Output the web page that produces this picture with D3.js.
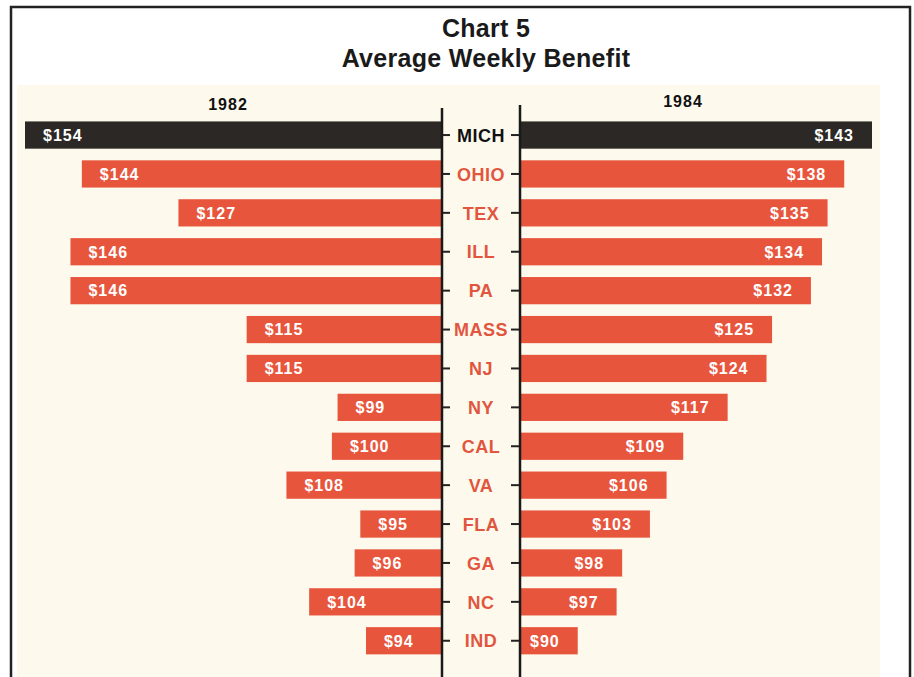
<!DOCTYPE html>
<html>
<head>
<meta charset="utf-8">
<script src="https://cdn.jsdelivr.net/npm/d3@7"></script>
<style>
  html, body { margin: 0; padding: 0; background: #ffffff; }
  svg { display: block; font-family: Arial, "Liberation Sans", Helvetica, sans-serif; }
</style>
</head>
<body>
<svg id="chart" width="914" height="677"></svg>
<script>
const states = ["MICH","OHIO","TEX","ILL","PA","MASS","NJ","NY","CAL","VA","FLA","GA","NC","IND"];
const values1982 = [154,144,127,146,146,115,115,99,100,108,95,96,104,94];
const values1984 = [143,138,135,134,132,125,124,117,109,106,103,98,97,90];
const yearLabels = ["1982","1984"];
const titleLines = ["Chart 5","Average Weekly Benefit"];
const highlighted = ["MICH"];

const RED = "#e8553d", DARK = "#2b2825", LABELRED = "#e2553f", CREAM = "#fdfaed";

const svg = d3.select("#chart");

// frame
svg.append("rect").attr("x", 11).attr("y", 7).attr("width", 899).attr("height", 700)
  .attr("fill", "#ffffff").attr("stroke", "#222").attr("stroke-width", 2.5);

// cream panel
svg.append("rect").attr("x", 17).attr("y", 85).attr("width", 863).attr("height", 600)
  .attr("fill", CREAM);

// title
svg.selectAll("text.title").data(titleLines).join("text")
  .attr("class", "title")
  .attr("x", 486).attr("y", (d, i) => i === 0 ? 37 : 67)
  .attr("text-anchor", "middle")
  .attr("font-size", 25).attr("font-weight", "bold").attr("letter-spacing", 0.3)
  .attr("fill", "#1a1a1a").text(d => d);

const y = d3.scaleBand().domain(states).range([115.6, 660.2]).paddingInner(0.3).paddingOuter(0.15);
const xL = d3.scaleLinear().domain([80.8, 154]).range([441, 25]);
const xR = d3.scaleLinear().domain([79.6, 143]).range([520, 872]);

const fillFor = s => highlighted.includes(s) ? DARK : RED;

const rows = states.map((s, i) => ({ s, a: values1982[i], b: values1984[i] }));

// left bars (1982)
svg.selectAll("rect.left").data(rows).join("rect").attr("class", "left")
  .attr("x", d => xL(d.a)).attr("y", d => y(d.s))
  .attr("width", d => xL.range()[0] - xL(d.a)).attr("height", y.bandwidth())
  .attr("fill", d => fillFor(d.s));
// right bars (1984)
svg.selectAll("rect.right").data(rows).join("rect").attr("class", "right")
  .attr("x", xR.range()[0]).attr("y", d => y(d.s))
  .attr("width", d => xR(d.b) - xR.range()[0]).attr("height", y.bandwidth())
  .attr("fill", d => fillFor(d.s));

// value labels
svg.selectAll("text.lv").data(rows).join("text").attr("class", "lv")
  .attr("x", d => xL(d.a) + 18).attr("y", d => y(d.s) + y.bandwidth() / 2)
  .attr("dy", "0.36em").attr("text-anchor", "start")
  .attr("font-size", 16).attr("font-weight", "bold").attr("letter-spacing", 1)
  .attr("fill", "#fff").text(d => "$" + d.a);
svg.selectAll("text.rv").data(rows).join("text").attr("class", "rv")
  .attr("x", d => xR(d.b) - 18).attr("y", d => y(d.s) + y.bandwidth() / 2)
  .attr("dy", "0.36em").attr("text-anchor", "end")
  .attr("font-size", 16).attr("font-weight", "bold").attr("letter-spacing", 1)
  .attr("fill", "#fff").text(d => "$" + d.b);

// axis lines
svg.append("line").attr("x1", 442).attr("x2", 442).attr("y1", 108).attr("y2", 677)
  .attr("stroke", "#1a1a1a").attr("stroke-width", 2.5);
svg.append("line").attr("x1", 520).attr("x2", 520).attr("y1", 105).attr("y2", 677)
  .attr("stroke", "#1a1a1a").attr("stroke-width", 2.5);

// ticks
svg.selectAll("line.tl").data(states).join("line").attr("class", "tl")
  .attr("x1", 443).attr("x2", 450)
  .attr("y1", d => y(d) + y.bandwidth() / 2).attr("y2", d => y(d) + y.bandwidth() / 2)
  .attr("stroke", "#222").attr("stroke-width", 2);
svg.selectAll("line.tr").data(states).join("line").attr("class", "tr")
  .attr("x1", 511).attr("x2", 519)
  .attr("y1", d => y(d) + y.bandwidth() / 2).attr("y2", d => y(d) + y.bandwidth() / 2)
  .attr("stroke", "#222").attr("stroke-width", 2);

// state labels
svg.selectAll("text.st").data(states).join("text").attr("class", "st")
  .attr("x", 481).attr("y", d => y(d) + y.bandwidth() / 2)
  .attr("dy", "0.37em").attr("text-anchor", "middle")
  .attr("font-size", 18).attr("font-weight", "bold").attr("letter-spacing", 0.5)
  .attr("fill", d => highlighted.includes(d) ? "#111" : LABELRED).text(d => d);

// year labels
svg.selectAll("text.yr").data(yearLabels).join("text").attr("class", "yr")
  .attr("x", (d, i) => i === 0 ? 228 : 683).attr("y", (d, i) => i === 0 ? 110 : 107)
  .attr("text-anchor", "middle")
  .attr("font-size", 16).attr("font-weight", "bold").attr("letter-spacing", 1)
  .attr("fill", "#111").text(d => d);
</script>
</body>
</html>
